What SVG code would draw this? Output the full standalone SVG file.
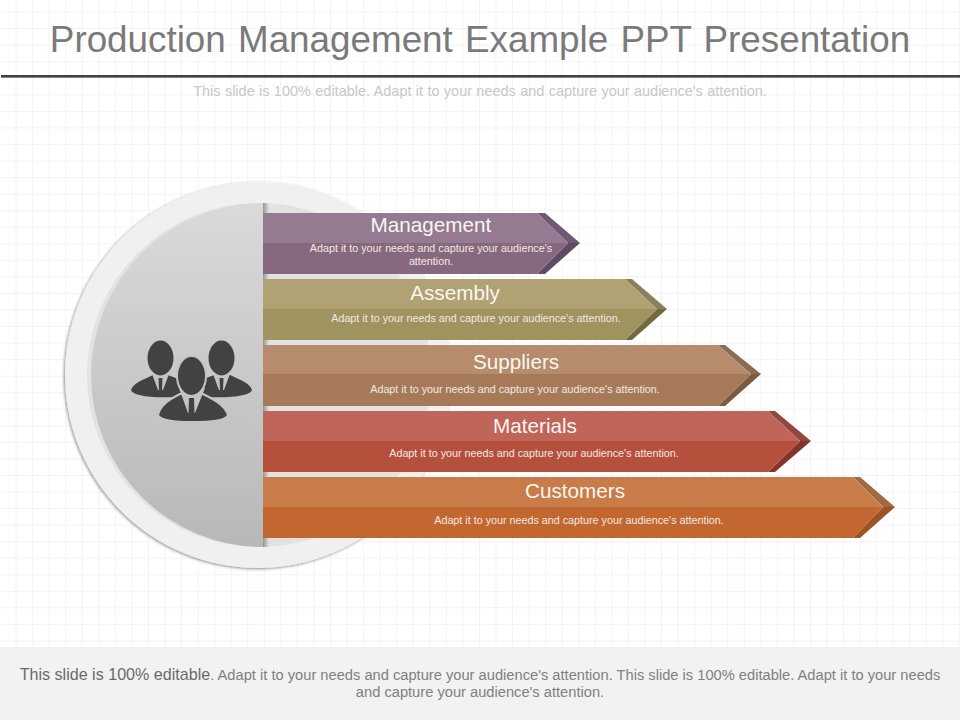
<svg xmlns="http://www.w3.org/2000/svg" width="960" height="720" viewBox="0 0 960 720">
<style>
text{font-family:"Liberation Sans",Arial,sans-serif;text-anchor:middle}
.h{font-size:20.700px;fill:#fbf6f0}
.d{font-size:10.750px;fill:#f3e8e0}
.p{fill:#424242}
.c{fill:#c4c4c4}
.halo{fill:#424242;stroke:#c4c4c4;stroke-width:2}
</style>
<defs>
<pattern id="grid" width="16.55" height="16.55" patternUnits="userSpaceOnUse" x="0" y="-4">
<path d="M16.05 0V16.55M0 16.05H16.55" fill="none" stroke="#f3f3f3" stroke-width="1"/>
</pattern>
<linearGradient id="half" x1="0" y1="0" x2="0" y2="1"><stop offset="0" stop-color="#dadada"/><stop offset="1" stop-color="#b8b8b8"/></linearGradient>
<linearGradient id="edge" x1="0" y1="0" x2="1" y2="0"><stop offset="0" stop-color="#000" stop-opacity=".35"/><stop offset="1" stop-color="#000" stop-opacity="0"/></linearGradient>
<filter id="sh" x="-10%" y="-10%" width="120%" height="120%"><feDropShadow dx="-1" dy="1" stdDeviation="1.5" flood-color="#000" flood-opacity=".45"/></filter>
</defs>
<rect width="960" height="720" fill="#fff"/>
<rect width="960" height="648" fill="url(#grid)"/>
<g id="header">
<text x="480" y="52" font-size="36.800" fill="#7a7a7a" word-spacing="2">Production Management Example PPT Presentation</text>
<rect x="1" y="75" width="959" height="2.6" fill="#404040"/>
<text x="480" y="96" font-size="14.500" fill="#c8c8c8" word-spacing=".3">This slide is 100% editable. Adapt it to your needs and capture your audience's attention.</text>
</g>
<g id="disc">
<circle cx="258" cy="375" r="193" fill="#f0f0f0" filter="url(#sh)"/>
<circle cx="259" cy="375" r="172" fill="#e2e2e2"/>
<path d="M263 203A172 172 0 0 0 263 547Z" fill="url(#half)"/>
<rect x="263" y="203" width="6" height="344" fill="url(#edge)"/>
</g>
<g id="people">
<path class="p" d="M131 390C133 383 143 380 153 375H168C176 378 184 381 188 386L176 397C160 398 133 397 131 390Z"/>
<path class="c" d="M152 374L158 390H163L169 374Z"/>
<path class="p" d="M158.500 378H162.500L162 390H159Z"/>
<ellipse class="p" cx="160.500" cy="358" rx="13" ry="17.500"/>
<path class="p" d="M252 390C250 383 240 380 230 375H214C206 378 198 381 194 386L206 397C222 398 250 397 252 390Z"/>
<path class="c" d="M213 374L219 390H224L230 374Z"/>
<path class="p" d="M219.500 378H223.500L223 390H220Z"/>
<ellipse class="p" cx="221.500" cy="358" rx="13" ry="17.500"/>
<path class="halo" d="M158 415C160 405 170 399 180 394H203C213 399 225 405 228 415C226 420 210 422 192 422C175 422 159 420 158 415Z"/>
<path class="c" d="M179 388L188 413H195L205 388Z"/>
<path class="p" d="M189 398H194L194.500 413H188.500Z"/>
<ellipse class="halo" cx="191.500" cy="376" rx="14.500" ry="20"/>
</g>
<g id="management">
<path fill="#6f5a73" d="M537 213H545L580 243H568Z"/><path fill="#5f4b63" d="M537 274H545L580 243H568Z"/>
<path fill="#957b91" d="M263 213H537L568 243H263Z"/><path fill="#86697f" d="M263 243H568L537 274H263Z"/>
<text class="h" x="431" y="232">Management</text>
<text class="d" x="431" y="252">Adapt it to your needs and capture your audience's</text>
<text class="d" x="431" y="265">attention.</text>
</g>
<g id="assembly">
<path fill="#8a805e" d="M625 279H632L667 309H657Z"/><path fill="#75693f" d="M625 340H632L667 309H657Z"/>
<path fill="#b0a273" d="M263 279H625L657 309H263Z"/><path fill="#9f945f" d="M263 309H657L625 340H263Z"/>
<text class="h" x="455" y="300">Assembly</text>
<text class="d" x="476" y="322">Adapt it to your needs and capture your audience's attention.</text>
</g>
<g id="suppliers">
<path fill="#8c6c50" d="M718 345H725L761 374H751Z"/><path fill="#7c5c3e" d="M718 406H725L761 374H751Z"/>
<path fill="#b68c6c" d="M263 345H718L751 374H263Z"/><path fill="#a67a58" d="M263 374H751L718 406H263Z"/>
<text class="h" x="516" y="369">Suppliers</text>
<text class="d" x="515" y="393">Adapt it to your needs and capture your audience's attention.</text>
</g>
<g id="materials">
<path fill="#90483c" d="M768 411H775L811 441H800Z"/><path fill="#83352a" d="M768 472H775L811 441H800Z"/>
<path fill="#c0655a" d="M263 411H768L800 441H263Z"/><path fill="#b5503d" d="M263 441H800L768 472H263Z"/>
<text class="h" x="535" y="433">Materials</text>
<text class="d" x="534" y="457">Adapt it to your needs and capture your audience's attention.</text>
</g>
<g id="customers">
<path fill="#a06a42" d="M853 477H860L895 507H883Z"/><path fill="#9a5526" d="M853 538H860L895 507H883Z"/>
<path fill="#c87c4a" d="M263 477H853L883 507H263Z"/><path fill="#c1672f" d="M263 507H883L853 538H263Z"/>
<text class="h" x="575" y="498">Customers</text>
<text class="d" x="579" y="524">Adapt it to your needs and capture your audience's attention.</text>
</g>
<g id="footer">
<rect y="647" width="960" height="73" fill="#f2f2f2"/>
<text x="480" y="680" font-size="14.680" fill="#808080"><tspan font-size="16.100" fill="#6a6a6a">This slide is 100% editable</tspan>. Adapt it to your needs and capture your audience's attention. This slide is 100% editable. Adapt it to your needs</text>
<text x="480" y="697" font-size="14.680" fill="#808080">and capture your audience's attention.</text>
</g>
</svg>
